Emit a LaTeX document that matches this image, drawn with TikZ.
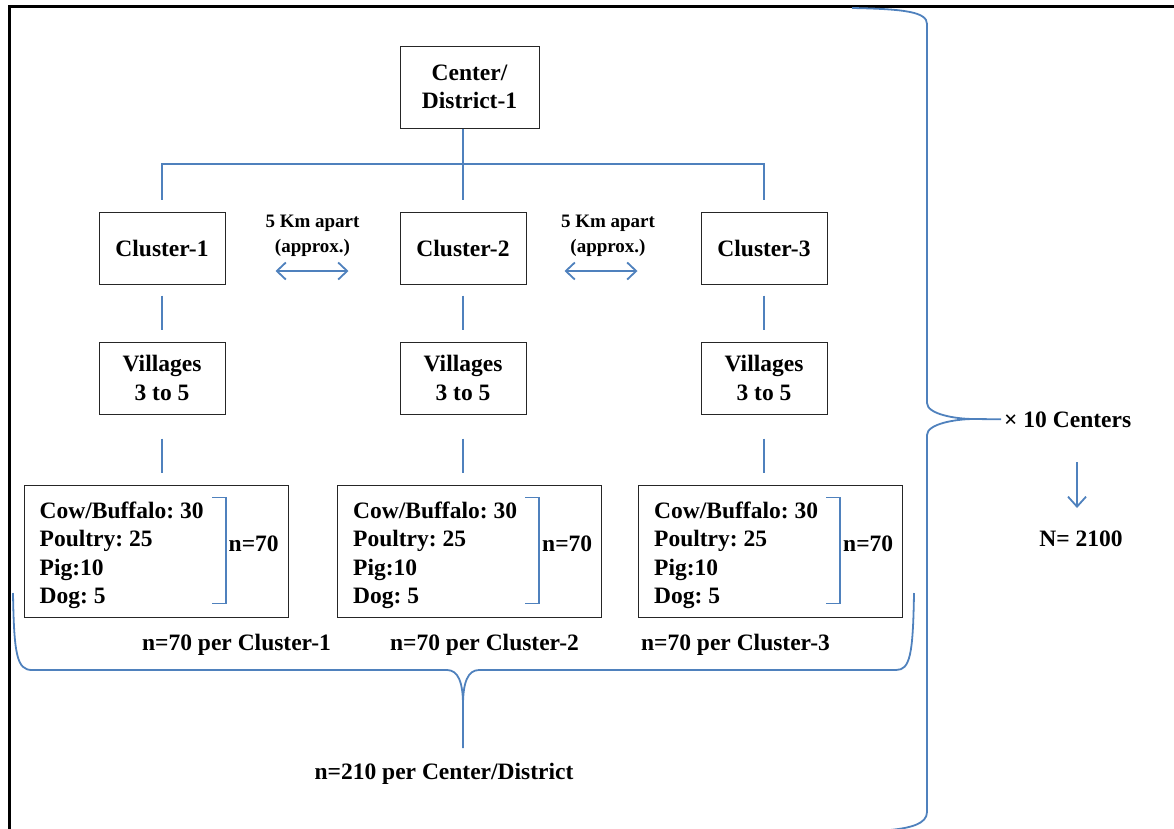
\documentclass[tikz,border=0pt]{standalone}
\usepackage{fontspec}
\setmainfont{Liberation Serif}
\usetikzlibrary{arrows.meta,calc}
\definecolor{linkblue}{RGB}{79,129,189}
\frenchspacing
\begin{document}
\begin{tikzpicture}[x=1pt,y=-1pt,
  font=\fontsize{23.5}{28.5}\selectfont\bfseries,
  box/.style={draw=black!85, line width=1pt, inner sep=0pt, align=center},
  cbox/.style={box, minimum width=126pt, minimum height=72pt},
  sbox/.style={box, minimum height=132pt, minimum width=264pt},
  conn/.style={draw=linkblue, line width=1.8pt},
  lbl/.style={inner sep=0pt},
  dbl/.style={conn, {Straight Barb[length=9pt,width=17pt]}-{Straight Barb[length=9pt,width=17pt]}},
  small/.style={lbl, align=center, font=\fontsize{19}{25}\selectfont\bfseries},
  ]
\useasboundingbox (0,0) rectangle (1174,828);

% outer frame (top and left edges)
\draw[line width=3pt] (9,829) -- (9,6) -- (1175,6);

% hierarchy boxes
\node[box, minimum width=139pt, minimum height=82pt] (ctr) at (469.5,87) {Center/\\District-1};

\node[cbox] (c1) at (162,248) {Cluster-1};
\node[cbox] (c2) at (463,248) {Cluster-2};
\node[cbox] (c3) at (764,248) {Cluster-3};

\node[cbox] (v1) at (162,378) {Villages\\3 to 5};
\node[cbox] (v2) at (463,378) {Villages\\3 to 5};
\node[cbox] (v3) at (764,378) {Villages\\3 to 5};

\node[sbox] (s1) at (156,551) {};
\node[sbox] (s2) at (469.5,551) {};
\node[sbox] (s3) at (770.5,551) {};

% sample composition inside each box
\foreach \i in {1,2,3}{
  \node[lbl, align=left, anchor=north west] (t\i) at ($(s\i.north west)+(16,17)$)
    {Cow/Buffalo: 30\\Poultry: 25\\Pig:10\\Dog: 5};
}

% tree connectors
\coordinate (bus) at (0,164);
\draw[conn, shorten >=12pt] (ctr.south -| c2.north) -- (c2.north);
\draw[conn] ([yshift=12pt]c1.north) -- (c1.north |- bus) -- (c3.north |- bus) -- ([yshift=12pt]c3.north);

\foreach \i in {1,2,3}{
  \draw[conn, shorten <=11pt, shorten >=12pt] (c\i.south) -- (v\i.north);
  \draw[conn, shorten <=24pt, shorten >=12pt] (v\i.south) -- (v\i.south |- s\i.north);
}

% distance arrows between clusters
\draw[dbl, shorten <=50pt, shorten >=51pt] ([yshift=-23pt]c1.east) -- ([yshift=-23pt]c2.west);
\draw[dbl, shorten <=38pt, shorten >=63pt] ([yshift=-23pt]c2.east) -- ([yshift=-23pt]c3.west);
\node[small] (d1) at (312.5,236) {5 Km apart\\(approx.)};
\node[small] (d2) at (608,236) {5 Km apart\\(approx.)};

% sample brackets and per-cluster totals
\foreach \i/\dx in {1/188.5,2/188,3/188}{
  \draw[conn] ($(s\i.north west)+(\dx,13)$) -- ++(14,0) -- ++(0,106) -- ++(-14,0);
  \node[lbl, anchor=base west] (n\i) at ($(s\i.north west)+(205,67)$) {n=70};
}

\node[lbl, anchor=base] (p1) at (236.5,650) {n=70 per Cluster-1};
\node[lbl, anchor=base] (p2) at (484.5,650) {n=70 per Cluster-2};
\node[lbl, anchor=base] (p3) at (735.5,650) {n=70 per Cluster-3};

% brace under the three clusters
\node[lbl, anchor=base] (tot) at (444,779) {n=210 per Center/District};
\coordinate (bl) at (13,593);
\coordinate (br) at (914,593);
\coordinate (btip) at (463,748);
\draw[conn] (bl) .. controls (14,655) and (17,670) .. (32,670) -- (447,670)
  .. controls (458,670) and (463,682) .. (463,705) -- (btip);
\draw[conn] (463,705) .. controls (463,682) and (468,670) .. (479,670) -- (896,670)
  .. controls (910,670) and (913,655) .. (br);

% brace over the whole center
\node[lbl, anchor=base west] (tc) at (1004,427) {× 10 Centers};
\coordinate (rt) at (852,8);
\coordinate (rb) at (890,830);
\coordinate (rtip) at (974,419);
\draw[conn] (rt) .. controls (905,9) and (927,12) .. (927,24) -- (927,403)
  .. controls (927,414) and (955,419) .. (rtip) -- ([xshift=-3pt]tc.west);
\draw[conn] (rtip) .. controls (955,419) and (927,424) .. (927,435) -- (927,812)
  .. controls (927,824) and (910,828) .. (rb);

% grand total
\node[lbl, anchor=base] (N) at (1081,546) {N= 2100};
\coordinate (a1) at (1077,462);
\coordinate (a2) at (1077,508);
\draw[conn, -{Straight Barb[length=10pt,width=18pt]}] (a1) -- (a2);
\end{tikzpicture}
\end{document}
